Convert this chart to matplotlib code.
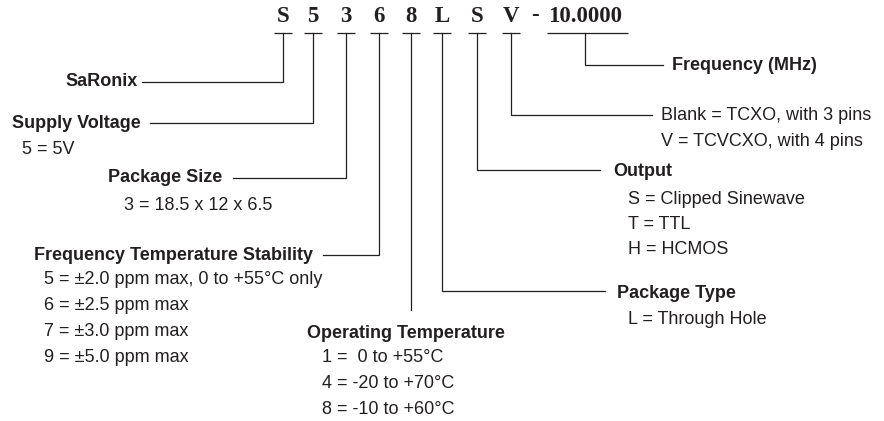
import matplotlib
matplotlib.use("Agg")
import matplotlib.pyplot as plt

# ---- content ----
code_chars = ["S", "5", "3", "6", "8", "L", "S", "V"]
freq_code = "10.0000"
field_titles = ["SaRonix", "Supply Voltage", "Package Size", "Frequency Temperature Stability",
                "Operating Temperature", "Package Type", "Output", "", "Frequency (MHz)"]
field_items = [
    [],
    ["5 = 5V"],
    ["3 = 18.5 x 12 x 6.5"],
    ["5 = ±2.0 ppm max, 0 to +55°C only", "6 = ±2.5 ppm max", "7 = ±3.0 ppm max", "9 = ±5.0 ppm max"],
    ["1 =  0 to +55°C", "4 = -20 to +70°C", "8 = -10 to +60°C"],
    ["L = Through Hole"],
    ["S = Clipped Sinewave", "T = TTL", "H = HCMOS"],
    ["Blank = TCXO, with 3 pins", "V = TCVCXO, with 4 pins"],
    [],
]

# ---- layout (pixel coordinates) ----
W, H = 884, 421
sans = "Liberation Sans"
serif = "Liberation Serif"
col = "#231f20"
lw = 0.9

fig = plt.figure(figsize=(W / 100, H / 100), dpi=100)
ax = fig.add_axes([0, 0, 1, 1])
ax.set_xlim(0, W)
ax.set_ylim(H, 0)
ax.axis("off")

code_x = [283, 313, 346, 379, 411, 442, 477, 511]
code_y = 16
ul_y = 33
cfs = 16.5
for ch, cx in zip(code_chars, code_x):
    ax.text(cx, code_y, ch, family=serif, weight="bold", fontsize=cfs, ha="center", va="center", color=col)
    ax.plot([cx - 9, cx + 9], [ul_y, ul_y], color=col, lw=lw, solid_capstyle="butt")
ax.text(535, code_y, "-", family=serif, weight="bold", fontsize=cfs, ha="center", va="center", color=col)
ax.text(548, code_y, freq_code, family=serif, weight="bold", fontsize=cfs, ha="left", va="center", color=col)
ax.plot([547, 628], [ul_y, ul_y], color=col, lw=lw, solid_capstyle="butt")

# connectors: (code x, elbow y, end x)  end x None -> only vertical
connectors = [
    (283, 82, 142), (313, 123, 150), (346, 178, 233), (379, 255, 323),
    (411, 310, None), (442, 291, 605), (477, 170, 600), (511, 115, 652), (585, 65, 663),
]
for cx, ey, ex in connectors:
    xs, ys = [cx, cx], [ul_y, ey]
    if ex is not None:
        xs.append(ex); ys.append(ey)
    ax.plot(xs, ys, color=col, lw=lw, solid_joinstyle="miter")

# titles: (x, y, ha)
title_pos = [
    (138, 82, "right"), (141, 123, "right"), (222, 178, "right"), (313, 255, "right"),
    (307, 333, "left"), (617, 293, "left"), (613, 171, "left"), None, (672, 65, "left"),
]
# item blocks: (x, first y, step)
item_pos = [
    None, (22, 150, 26), (124, 206, 26), (44, 280, 25.7),
    (322, 357, 26), (628, 319, 26), (628, 199, 25.5), (661, 115, 27), None,
]
tfs = 13
for t, tp, items, ip in zip(field_titles, title_pos, field_items, item_pos):
    if t and tp:
        ax.text(tp[0], tp[1], t, family=sans, weight="bold", fontsize=tfs, ha=tp[2], va="center", color=col)
    if ip:
        for k, it in enumerate(items):
            ax.text(ip[0], ip[1] + k * ip[2], it, family=sans, fontsize=tfs, ha="left", va="center", color=col)

fig.savefig("out.png", dpi=100)
